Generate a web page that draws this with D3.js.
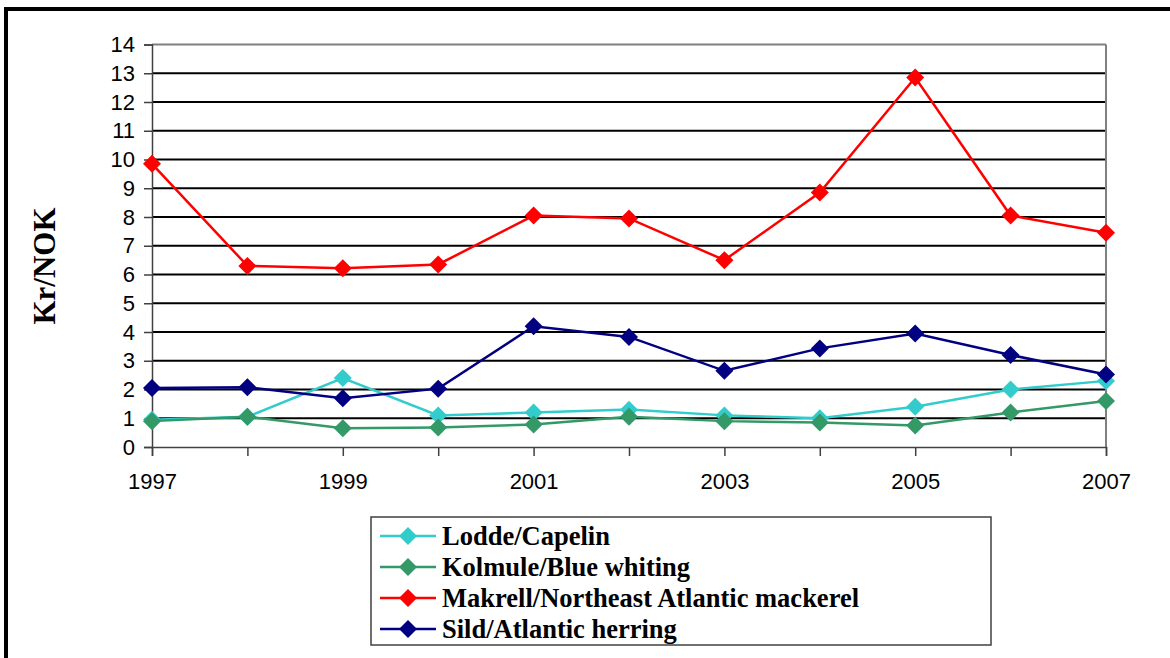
<!DOCTYPE html>
<html>
<head>
<meta charset="utf-8">
<script src="https://cdn.jsdelivr.net/npm/d3@7"></script>
<style>
  body { margin: 0; background: #fff; }
  svg { display: block; }
</style>
</head>
<body>
<div id="chart"></div>
<script>
// years on the x axis
var years = [1997, 1998, 1999, 2000, 2001, 2002, 2003, 2004, 2005, 2006, 2007];
var yearTicks = [1997, 1999, 2001, 2003, 2005, 2007];
var yTicks = d3.range(0, 15);

// price in Kr/NOK
var lodde   = [0.95, 1.05, 2.4, 1.1, 1.2, 1.3, 1.1, 1.0, 1.4, 2.0, 2.3];
var kolmule = [0.9, 1.05, 0.65, 0.68, 0.78, 1.05, 0.9, 0.85, 0.75, 1.2, 1.6];
var makrell = [9.85, 6.3, 6.22, 6.35, 8.05, 7.95, 6.5, 8.85, 12.85, 8.05, 7.45];
var sild    = [2.05, 2.08, 1.7, 2.03, 4.2, 3.83, 2.65, 3.43, 3.95, 3.2, 2.52];

var seriesNames = ["Lodde/Capelin", "Kolmule/Blue whiting", "Makrell/Northeast Atlantic mackerel", "Sild/Atlantic herring"];
var seriesColors = ["#33cccc", "#339966", "#ff0000", "#000080"];
var seriesValues = [lodde, kolmule, makrell, sild];

var series = seriesNames.map(function(n, i) {
  return { name: n, color: seriesColors[i], values: seriesValues[i] };
});

var W = 1170, H = 658;
var svg = d3.select("#chart").append("svg")
  .attr("width", W).attr("height", H);

// outer frame (cut off on right and bottom)
svg.append("rect")
  .attr("x", 6).attr("y", 9)
  .attr("width", W + 20).attr("height", H + 20)
  .attr("fill", "none").attr("stroke", "#000").attr("stroke-width", 4);

var x = d3.scaleLinear().domain([1997, 2007]).range([152, 1106]);
var y = d3.scaleLinear().domain([0, 14]).range([447, 44.5]);

// gridlines
svg.append("g").selectAll("line")
  .data(yTicks.filter(function(d) { return d > 0 && d < 14; }))
  .enter().append("line")
  .attr("x1", x(1997)).attr("x2", x(2007))
  .attr("y1", function(d) { return y(d); })
  .attr("y2", function(d) { return y(d); })
  .attr("stroke", "#000").attr("stroke-width", 2);

// plot border top / right
svg.append("line")
  .attr("x1", x(1997)).attr("x2", x(2007))
  .attr("y1", y(14)).attr("y2", y(14))
  .attr("stroke", "#808080").attr("stroke-width", 2);
svg.append("line")
  .attr("x1", x(2007)).attr("x2", x(2007))
  .attr("y1", y(14)).attr("y2", y(0))
  .attr("stroke", "#808080").attr("stroke-width", 2);

var tickFont = "Liberation Sans, Arial, sans-serif";

// y axis
var yAxis = svg.append("g")
  .attr("transform", "translate(" + x(1997) + ",0)")
  .call(d3.axisLeft(y).tickValues(yTicks).tickSize(8).tickPadding(9).tickFormat(d3.format("d")));
yAxis.select(".domain").attr("stroke", "#404040").attr("stroke-width", 1.5);
yAxis.selectAll(".tick line").attr("stroke", "#404040").attr("stroke-width", 1.5);
yAxis.selectAll("text")
  .attr("font-family", tickFont)
  .attr("font-size", 22).attr("fill", "#000");

// x axis
var xAxis = svg.append("g")
  .attr("transform", "translate(0," + y(0) + ")")
  .call(d3.axisBottom(x).tickValues(years).tickSize(9).tickPadding(17).tickFormat(function(d) {
    return yearTicks.indexOf(d) >= 0 ? d : "";
  }));
xAxis.select(".domain").attr("stroke", "#404040").attr("stroke-width", 1.5);
xAxis.selectAll(".tick line").attr("stroke", "#404040").attr("stroke-width", 1.5);
xAxis.selectAll("text")
  .attr("font-family", tickFont)
  .attr("font-size", 22).attr("fill", "#000");

// y axis title
svg.append("text")
  .attr("transform", "translate(55,266) rotate(-90)")
  .attr("text-anchor", "middle")
  .attr("font-family", "Liberation Serif, Times New Roman, serif")
  .attr("font-weight", "bold")
  .attr("font-size", 31)
  .text("Kr/NOK");

var line = d3.line()
  .x(function(d, i) { return x(years[i]); })
  .y(function(d) { return y(d); });

// square diamond marker, like the spreadsheet one
var diamondType = {
  draw: function(ctx, size) {
    var r = Math.sqrt(size / 2);
    ctx.moveTo(0, -r);
    ctx.lineTo(r, 0);
    ctx.lineTo(0, r);
    ctx.lineTo(-r, 0);
    ctx.closePath();
  }
};
var diamond = d3.symbol().type(diamondType).size(162);

series.forEach(function(s) {
  svg.append("path")
    .attr("d", line(s.values))
    .attr("fill", "none")
    .attr("stroke", s.color)
    .attr("stroke-width", 2.5);
  svg.append("g").selectAll("path")
    .data(s.values)
    .enter().append("path")
    .attr("d", diamond)
    .attr("transform", function(d, i) { return "translate(" + x(years[i]) + "," + y(d) + ")"; })
    .attr("fill", s.color);
});

// legend
var legend = svg.append("g");
legend.append("rect")
  .attr("x", 371).attr("y", 517)
  .attr("width", 620).attr("height", 128)
  .attr("fill", "#fff").attr("stroke", "#404040").attr("stroke-width", 1.5);

var rows = legend.selectAll("g.row")
  .data(series)
  .enter().append("g")
  .attr("class", "row")
  .attr("transform", function(d, i) { return "translate(0," + (536 + i * 31) + ")"; });
rows.append("line")
  .attr("x1", 380).attr("x2", 436)
  .attr("stroke", function(d) { return d.color; })
  .attr("stroke-width", 2.5);
rows.append("path")
  .attr("d", diamond)
  .attr("transform", "translate(408,0)")
  .attr("fill", function(d) { return d.color; });
rows.append("text")
  .attr("x", 442).attr("y", 9)
  .attr("font-family", "Liberation Serif, Times New Roman, serif")
  .attr("font-weight", "bold")
  .attr("font-size", 26.5)
  .text(function(d) { return d.name; });
</script>
</body>
</html>
